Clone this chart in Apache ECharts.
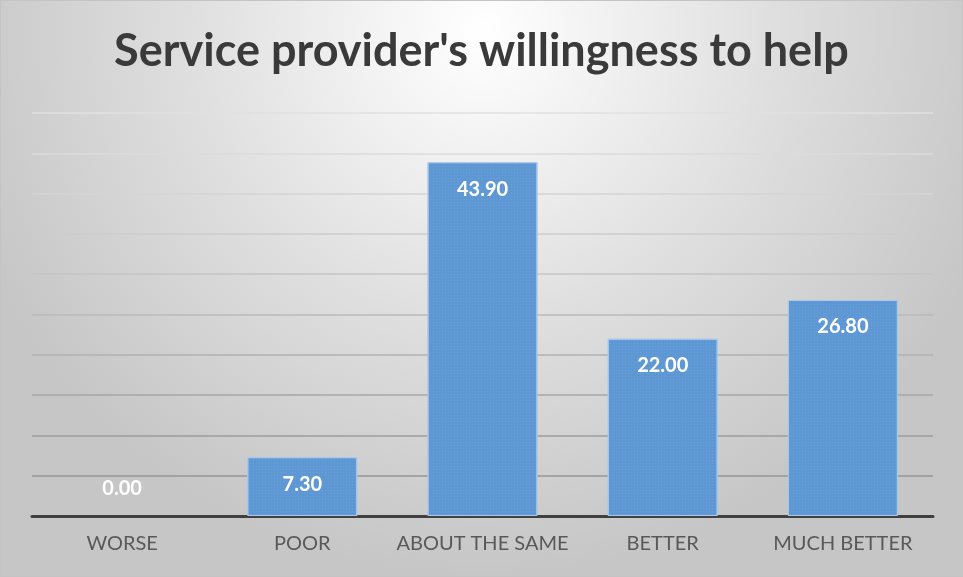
<!DOCTYPE html>
<html>
<head>
<meta charset="utf-8">
<script src="https://cdn.jsdelivr.net/npm/echarts@6/dist/echarts.min.js"></script>
<style>
  html, body { margin: 0; padding: 0; background: #fff; }
  #frame { width: 961px; height: 575px; border: 1px solid #c4c4c4; }
  #chart { width: 961px; height: 575px; }
</style>
</head>
<body>
<div id="frame"><div id="chart"></div></div>
<script>
const categories = ['WORSE', 'POOR', 'ABOUT THE SAME', 'BETTER', 'MUCH BETTER']
const values = [0.0, 7.3, 43.9, 22.0, 26.8]
const chartTitle = "Service provider's willingness to help"

// gridline colours, bottom to top (they fade toward the lighter top of the card)
const gridColors = ['#909090', '#969696', '#9d9d9d', '#a6a6a6', '#b0b0b0', '#bababa',
  '#c4c4c4', '#cdcdcd', '#d5d5d5', '#dbdbdb', '#e0e0e0']

const myChart = echarts.init(document.getElementById('chart'))

const option = {
  backgroundColor: {
    type: 'radial',
    x: 0.5,
    y: 0.05,
    r: 0.95,
    colorStops: [
      { offset: 0, color: '#ffffff' },
      { offset: 0.55, color: '#dedede' },
      { offset: 1, color: '#c6c6c6' },
    ],
  },
  title: {
    text: chartTitle,
    left: 'center',
    top: 23,
    textStyle: {
      fontFamily: 'Lato',
      fontWeight: 'bold',
      fontSize: 45,
      color: '#3a3a3a',
    },
  },
  grid: {
    left: 31,
    right: 29,
    top: 112,
    bottom: 60,
    containLabel: false,
  },
  xAxis: {
    type: 'category',
    data: categories,
    axisTick: { show: false },
    axisLine: {
      lineStyle: { color: '#404040', width: 3 },
    },
    axisLabel: {
      interval: 0,
      color: '#595959',
      fontFamily: 'Lato',
      fontSize: 20,
      margin: 18,
    },
  },
  yAxis: {
    type: 'value',
    min: 0,
    max: 50,
    interval: 5,
    axisLabel: { show: false },
    axisLine: { show: false },
    axisTick: { show: false },
    splitLine: {
      lineStyle: { color: gridColors, width: 1.5 },
    },
  },
  series: [
    {
      type: 'bar',
      barCategoryGap: '39%',
      data: values.map((v) => {
        if (v === 0) {
          return {
            value: v,
            itemStyle: { borderWidth: 0 },
            label: { position: 'top', distance: 17 },
          }
        }
        return v
      }),
      itemStyle: {
        color: '#5e98d4',
        borderColor: '#a9c8ea',
        borderWidth: 1,
        decal: {
          symbol: 'rect',
          symbolSize: 0.6,
          color: 'rgba(255,255,255,0.25)',
          dashArrayX: [1, 2],
          dashArrayY: [1, 2],
        },
      },
      label: {
        show: true,
        position: 'insideTop',
        distance: 17,
        formatter: (p) => Number(p.value).toFixed(2),
        color: '#ffffff',
        fontFamily: 'Lato',
        fontWeight: 'bold',
        fontSize: 20,
      },
      emphasis: { disabled: true },
    },
  ],
}

myChart.setOption(option)
</script>
</body>
</html>
